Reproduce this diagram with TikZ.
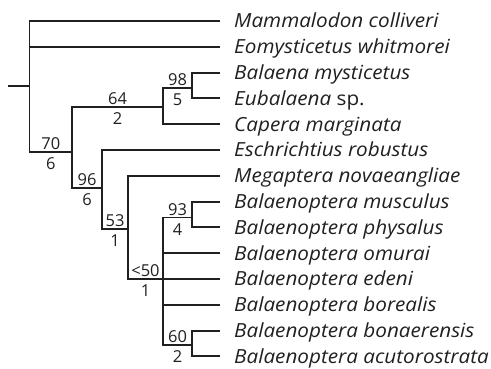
\documentclass[tikz,border=0pt]{standalone}
\usepackage{fontspec}
\setmainfont{Open Sans}
\newfontfamily\namefont[FakeStretch=1.065]{Open Sans}
\definecolor{ink}{rgb}{0.13,0.12,0.12}
\begin{document}
\begin{tikzpicture}[x=1bp,y=-1bp,
  br/.style={draw=ink,line width=1.9bp},
  leaf/.style={anchor=west,inner xsep=14bp,inner ysep=0pt,text height=13.6bp,text depth=0pt,
    font=\namefont\fontsize{19.5}{21}\selectfont\itshape,text=ink},
  sup/.style={pos=.75,anchor=base,yshift=2.5bp,inner sep=0pt,font=\fontsize{16.5}{18}\selectfont,text=ink},
  sdn/.style={pos=.75,anchor=base,yshift=-17.5bp,inner sep=0pt,font=\fontsize{16.5}{18}\selectfont,text=ink}]
\useasboundingbox (0,0) rectangle (491,368);
\def\dy{25.8}
\foreach \i/\t in {0/{Mammalodon colliveri},1/{Eomysticetus whitmorei},2/{Balaena mysticetus},
  3/{Eubalaena {\upshape sp.}},4/{Capera marginata},5/{Eschrichtius robustus},6/{Megaptera novaeangliae},
  7/{Balaenoptera musculus},8/{Balaenoptera physalus},9/{Balaenoptera omurai},10/{Balaenoptera edeni},
  11/{Balaenoptera borealis},12/{Balaenoptera bonaerensis},13/{Balaenoptera acutorostrata}}
  \node[leaf] (L\i) at (220,21+\i*\dy) {\t};
\coordinate (root) at (8,86);
\coordinate (n0) at (29.5,86);
\coordinate (n70) at (72,152);
\coordinate (n64) at (163,107);
\coordinate (n98) at (192,88);
\coordinate (n96) at (102,188);
\coordinate (n53) at (128,229);
\coordinate (n50) at (163,21+10*\dy);
\coordinate (n93) at (192,217.5);
\coordinate (n60) at (192,345);
\draw[br] (root) -- (n0);
\draw[br] (n0) |- (L0.west);
\draw[br] (n0) |- (L1.west);
\draw[br] (n0) |- node[sup]{70} node[sdn]{6} (n70);
\draw[br] (n70) |- node[sup]{64} node[sdn]{2} (n64);
\draw[br] (n70) |- node[sup]{96} node[sdn]{6} (n96);
\draw[br] (n64) |- node[sup]{98} node[sdn]{5} (n98);
\draw[br] (n64) |- (L4.west);
\draw[br] (n98) |- (L2.west);
\draw[br] (n98) |- (L3.west);
\draw[br] (n96) |- (L5.west);
\draw[br] (n96) |- node[sup]{53} node[sdn]{1} (n53);
\draw[br] (n53) |- (L6.west);
\draw[br] (n53) |- node[sup]{<50} node[sdn]{1} (n50);
\draw[br] (n50) |- node[sup]{93} node[sdn]{4} (n93);
\draw[br] (n50) |- (L9.west);
\draw[br] (n50) -- (L10.west);
\draw[br] (n50) |- (L11.west);
\draw[br] (n50) |- node[sup]{60} node[sdn]{2} (n60);
\draw[br] (n93) |- (L7.west);
\draw[br] (n93) |- (L8.west);
\draw[br] (n60) |- (L12.west);
\draw[br] (n60) |- (L13.west);
\end{tikzpicture}
\end{document}
